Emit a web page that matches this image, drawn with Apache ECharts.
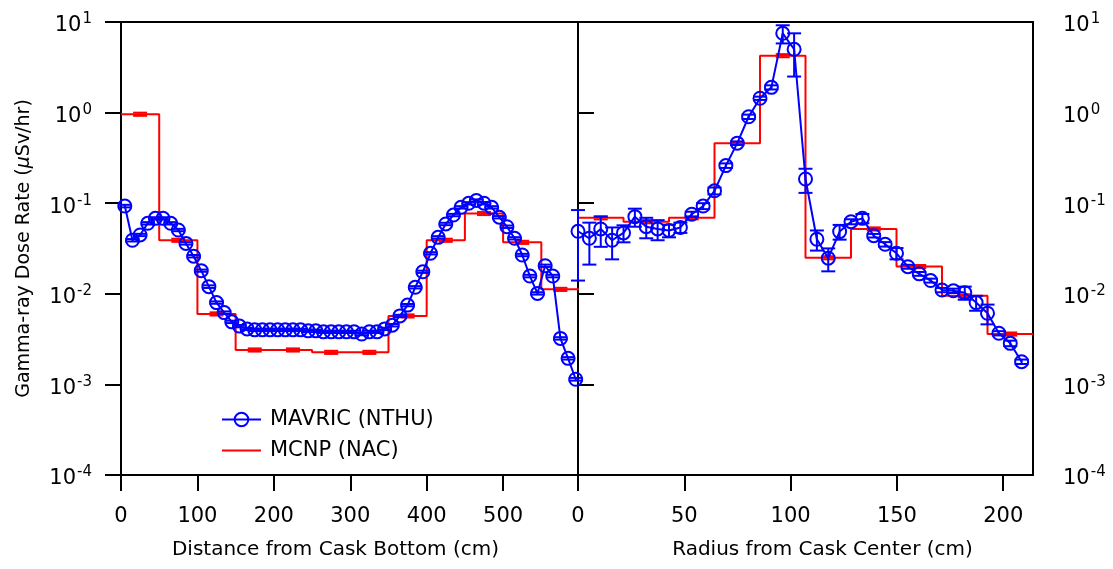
<!DOCTYPE html>
<html>
<head>
<meta charset="utf-8">
<script src="https://cdn.jsdelivr.net/npm/echarts@6/dist/echarts.min.js"></script>
<style>
  html, body { margin: 0; padding: 0; background: #fff; }
  #chart { width: 1113px; height: 569px; }
</style>
</head>
<body>
<div id="chart"></div>
<script>
// ---- left panel: distance from cask bottom (cm) ----
const axialPos = [5, 15, 25, 35, 45, 55, 65, 75, 85, 95,
  105, 115, 125, 135, 145, 155, 165, 175, 185, 195,
  205, 215, 225, 235, 245, 255, 265, 275, 285, 295,
  305, 315, 325, 335, 345, 355, 365, 375, 385, 395,
  405, 415, 425, 435, 445, 455, 465, 475, 485, 495,
  505, 515, 525, 535, 545, 555, 565, 575, 585, 595];
const axialMavric = [0.093, 0.039, 0.0446, 0.060, 0.068, 0.068, 0.060, 0.0506, 0.036, 0.026,
  0.018, 0.012, 0.0080, 0.0062, 0.0049, 0.0044, 0.0041, 0.0040, 0.0040, 0.0040,
  0.0040, 0.0040, 0.0040, 0.0040, 0.0039, 0.0039, 0.0038, 0.0038, 0.0038, 0.0038,
  0.0038, 0.0036, 0.0038, 0.0038, 0.0041, 0.0045, 0.0057, 0.0075, 0.0118, 0.0175,
  0.028, 0.042, 0.059, 0.074, 0.090, 0.0997, 0.107, 0.100, 0.090, 0.070,
  0.055, 0.041, 0.0268, 0.0157, 0.0101, 0.0204, 0.0157, 0.00322, 0.00194, 0.00114];
const axialMavricErr = [0.003, 0.0012, 0.0013, 0.0018, 0.002, 0.002, 0.0018, 0.0015, 0.0011, 0.0008,
  0.0005, 0.0004, 0.00024, 0.00019, 0.00015, 0.00013, 0.00012, 0.00012, 0.00012, 0.00012,
  0.00012, 0.00012, 0.00012, 0.00012, 0.00012, 0.00012, 0.00011, 0.00011, 0.00011, 0.00011,
  0.00011, 0.00011, 0.00011, 0.00011, 0.00012, 0.00014, 0.00017, 0.00022, 0.00035, 0.0005,
  0.0008, 0.0013, 0.0018, 0.0022, 0.0027, 0.003, 0.0032, 0.003, 0.0027, 0.0021,
  0.0017, 0.0012, 0.0008, 0.0005, 0.0003, 0.0006, 0.0005, 0.0001, 0.00006, 0.00004];
const axialBinEdges = [0, 50, 100, 150, 200, 250, 300, 350, 400, 450, 500, 550, 600];
const axialMcnp = [0.96, 0.039, 0.0060, 0.0024, 0.0024, 0.00226, 0.00226, 0.0057, 0.039, 0.077, 0.037, 0.0112];
const axialTicks = [0, 100, 200, 300, 400, 500];

// ---- right panel: radius from cask center (cm) ----
const radialPos = [0, 5.35, 10.7, 16.05, 21.4, 26.75, 32.1, 37.45, 42.8, 48.15,
  53.5, 58.85, 64.2, 69.55, 74.9, 80.25, 85.6, 90.95, 96.3, 101.65,
  107, 112.35, 117.7, 123.05, 128.4, 133.75, 139.1, 144.45, 149.8, 155.15,
  160.5, 165.85, 171.2, 176.55, 181.9, 187.25, 192.6, 197.95, 203.3, 208.65];
const radialMavric = [0.049, 0.041, 0.052, 0.039, 0.047, 0.071, 0.055, 0.052, 0.050, 0.054,
  0.0755, 0.093, 0.137, 0.26, 0.46, 0.90, 1.44, 1.90, 7.5, 5.0,
  0.185, 0.040, 0.0247, 0.0486, 0.0625, 0.068, 0.0438, 0.0352, 0.028, 0.0199,
  0.0166, 0.014, 0.011, 0.0108, 0.0103, 0.008, 0.0061, 0.00367, 0.00284, 0.00178];
const radialMavricErr = [0.035, 0.02, 0.019, 0.015, 0.010, 0.016, 0.014, 0.013, 0.008, 0.007,
  0.005, 0.007, 0.012, 0.015, 0.02, 0.05, 0.06, 0.1, 1.7, 2.5,
  0.055, 0.01, 0.007, 0.009, 0.004, 0.008, 0.002, 0.002, 0.004, 0.001,
  0.0008, 0.0007, 0.0006, 0.0006, 0.0017, 0.0015, 0.0015, 0.0002, 0.0002, 0.0001];
const radialBinEdges = [0, 21.4, 42.8, 64.2, 85.6, 107, 128.4, 149.8, 171.2, 192.6, 214];
const radialMcnp = [0.069, 0.0625, 0.069, 0.458, 4.25, 0.025, 0.052, 0.020, 0.0095, 0.0036];
const radialTicks = [0, 50, 100, 150, 200];

const BLUE = '#0000ff';
const RED = '#ff0000';
const FONT = 'DejaVu Sans';

const myChart = echarts.init(document.getElementById('chart'));

// step line points: each bin value starts at its left edge
function stepData(edges, vals) {
  return edges.map((e, i) => [e, vals[Math.min(i, vals.length - 1)]]);
}
// red error markers sit at bin centres (tiny errors)
function binCenters(edges, vals) {
  return vals.map((v, i) => [(edges[i] + edges[i + 1]) / 2, v, v * 0.04]);
}

function errorBar(color, capHalf) {
  return function (params, api) {
    const x = api.value(0), y = api.value(1), e = api.value(2);
    const top = api.coord([x, y + e]);
    const bot = api.coord([x, Math.max(y - e, 1e-5)]);
    const style = { stroke: color, lineWidth: 2, fill: null };
    return {
      type: 'group',
      children: [
        { type: 'line', shape: { x1: top[0], y1: top[1], x2: bot[0], y2: bot[1] }, style: style },
        { type: 'line', shape: { x1: top[0] - capHalf, y1: top[1], x2: top[0] + capHalf, y2: top[1] }, style: style },
        { type: 'line', shape: { x1: bot[0] - capHalf, y1: bot[1], x2: bot[0] + capHalf, y2: bot[1] }, style: style }
      ]
    };
  };
}

// 10 with a raised exponent
const expRich = {
  b: { fontSize: 21, fontFamily: FONT, color: '#000', lineHeight: 26, padding: [8, 0, 0, 0] },
  e: { fontSize: 15, fontFamily: FONT, color: '#000', verticalAlign: 'top', lineHeight: 15, padding: [3, 0, 0, 1] }
};
function expFormatter(value) {
  const ex = Math.round(Math.log10(value));
  return '{b|10}{e|' + ex + '}';
}

const axisLine = { show: true, lineStyle: { color: '#000', width: 2 } };
const axisTick = { show: true, inside: false, length: 16, lineStyle: { color: '#000', width: 2 } };

const option = {
  animation: false,
  backgroundColor: '#fff',
  textStyle: { fontFamily: FONT },
  grid: [
    { left: 121, right: 535, top: 22, bottom: 94, show: true, borderColor: '#000', borderWidth: 2 },
    { left: 578, right: 80, top: 22, bottom: 94, show: true, borderColor: '#000', borderWidth: 2 }
  ],
  legend: {
    orient: 'vertical',
    left: 216,
    top: 404,
    itemWidth: 39,
    itemHeight: 17,
    itemGap: 10,
    textStyle: { fontSize: 21, fontFamily: FONT, color: '#000', lineHeight: 20, padding: [0, 0, 0, 4] },
    data: [
      { name: 'MAVRIC (NTHU)' },
      { name: 'MCNP (NAC)', icon: 'path://M0,0 L40,0 L40,2 L0,2 Z' }
    ]
  },
  xAxis: [
    {
      type: 'value', gridIndex: 0, min: 0, max: 598,
      axisLine: axisLine,
      axisTick: Object.assign({ customValues: axialTicks }, axisTick),
      splitLine: { show: false },
      axisLabel: { customValues: axialTicks, fontSize: 21, color: '#000', margin: 31 },
      name: 'Distance from Cask Bottom (cm)', nameLocation: 'middle', nameGap: 65,
      nameTextStyle: { fontSize: 20, color: '#000', padding: [0, 28, 0, 0] }
    },
    {
      type: 'value', gridIndex: 1, min: 0, max: 214,
      axisLine: axisLine,
      axisTick: Object.assign({ customValues: radialTicks }, axisTick),
      splitLine: { show: false },
      axisLabel: { customValues: radialTicks, fontSize: 21, color: '#000', margin: 31 },
      name: 'Radius from Cask Center (cm)', nameLocation: 'middle', nameGap: 65,
      nameTextStyle: { fontSize: 20, color: '#000', padding: [0, 0, 0, 34] }
    }
  ],
  yAxis: [
    {
      type: 'log', logBase: 10, gridIndex: 0, position: 'left', min: 1e-4, max: 10,
      axisLine: axisLine, axisTick: axisTick, splitLine: { show: false }, minorTick: { show: false },
      axisLabel: { margin: 29, formatter: expFormatter, rich: expRich },
      name: 'Gamma-ray Dose Rate ({i|μ}Sv/hr)', nameLocation: 'middle', nameGap: 87,
      nameTextStyle: {
        fontSize: 19, color: '#000',
        rich: { i: { fontSize: 19, fontStyle: 'italic', color: '#000' } }
      }
    },
    {
      type: 'log', logBase: 10, gridIndex: 1, position: 'right', min: 1e-4, max: 10,
      axisLine: axisLine, axisTick: axisTick, splitLine: { show: false }, minorTick: { show: false },
      axisLabel: { margin: 30, formatter: expFormatter, rich: expRich }
    }
  ],
  series: [
    {
      name: 'MCNP (NAC)', type: 'line', xAxisIndex: 0, yAxisIndex: 0,
      step: 'end', symbol: 'none', color: RED,
      lineStyle: { color: RED, width: 2 },
      data: stepData(axialBinEdges, axialMcnp), z: 2
    },
    {
      type: 'custom', xAxisIndex: 0, yAxisIndex: 0, z: 3,
      renderItem: errorBar(RED, 7),
      encode: { x: 0, y: 1 },
      data: binCenters(axialBinEdges, axialMcnp)
    },
    {
      name: 'MCNP (NAC)', type: 'line', xAxisIndex: 1, yAxisIndex: 1,
      step: 'end', symbol: 'none', color: RED,
      lineStyle: { color: RED, width: 2 },
      data: stepData(radialBinEdges, radialMcnp), z: 2
    },
    {
      type: 'custom', xAxisIndex: 1, yAxisIndex: 1, z: 3,
      renderItem: errorBar(RED, 7),
      encode: { x: 0, y: 1 },
      data: binCenters(radialBinEdges, radialMcnp)
    },
    {
      name: 'MAVRIC (NTHU)', type: 'line', xAxisIndex: 0, yAxisIndex: 0,
      symbol: 'circle', symbolSize: 13, color: BLUE,
      itemStyle: { color: 'none', borderColor: BLUE, borderWidth: 2 },
      lineStyle: { color: BLUE, width: 2 },
      data: axialPos.map((x, i) => [x, axialMavric[i]]), z: 4
    },
    {
      type: 'custom', xAxisIndex: 0, yAxisIndex: 0, z: 5,
      renderItem: errorBar(BLUE, 7),
      encode: { x: 0, y: 1 },
      data: axialPos.map((x, i) => [x, axialMavric[i], axialMavricErr[i]])
    },
    {
      name: 'MAVRIC (NTHU)', type: 'line', xAxisIndex: 1, yAxisIndex: 1,
      symbol: 'circle', symbolSize: 13, color: BLUE,
      itemStyle: { color: 'none', borderColor: BLUE, borderWidth: 2 },
      lineStyle: { color: BLUE, width: 2 },
      data: radialPos.map((x, i) => [x, radialMavric[i]]), z: 4
    },
    {
      type: 'custom', xAxisIndex: 1, yAxisIndex: 1, z: 5,
      renderItem: errorBar(BLUE, 7),
      encode: { x: 0, y: 1 },
      data: radialPos.map((x, i) => [x, radialMavric[i], radialMavricErr[i]])
    }
  ]
};

myChart.setOption(option);
</script>
</body>
</html>
